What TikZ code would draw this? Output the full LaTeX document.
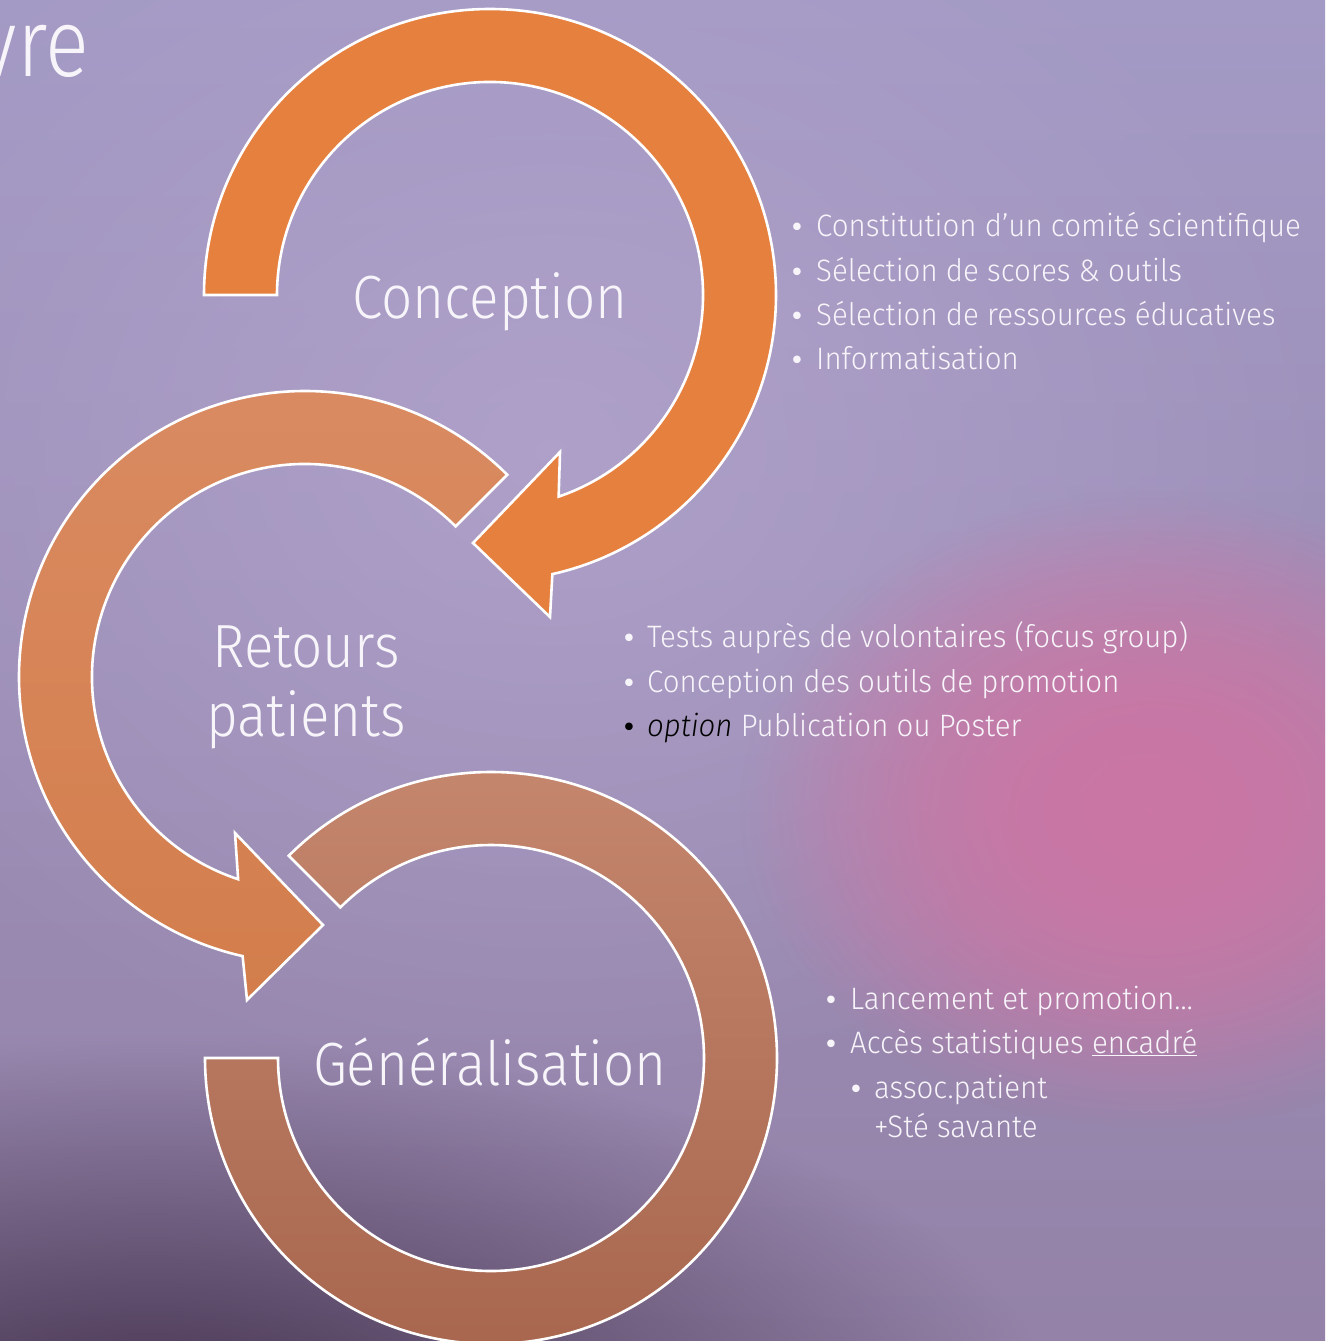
\documentclass[tikz,border=0pt]{standalone}
\usepackage{fontspec}
\IfFontExistsTF{Fira Sans Light}{%
  \setmainfont{Fira Sans Light}[ItalicFont={Fira Sans Light Italic}, FakeStretch=0.95]
  \newfontfamily\bigfont{Fira Sans Light}[FakeStretch=0.9]
  \newfontfamily\titlefont{Fira Sans Light}[FakeStretch=0.85]
}{%
  \setmainfont{Fira Sans}[FakeStretch=0.95]
  \newfontfamily\bigfont{Fira Sans}[FakeStretch=0.9]
  \newfontfamily\titlefont{Fira Sans}[FakeStretch=0.85]
}
\newfontfamily\dejavu{DejaVu Sans}
\newcommand{\bulmark}[1]{\llap{{\dejavu\fontsize{26}{26}\selectfont •}\hspace{#1}}}
\usetikzlibrary{calc,fadings}
\definecolor{bgtop}{HTML}{A39AC5}
\definecolor{bgbot}{HTML}{9482A8}
\definecolor{glow}{HTML}{B4A5CD}
\definecolor{pinkblob}{HTML}{CB76A4}
\definecolor{darkblob}{HTML}{45334F}
\definecolor{arcA}{HTML}{E6803F}
\definecolor{arcBtop}{HTML}{DA8B62}
\definecolor{arcBbot}{HTML}{D37D4C}
\definecolor{arcCtop}{HTML}{C6876F}
\definecolor{arcCbot}{HTML}{A7654D}
\definecolor{txt}{HTML}{F7F4FA}
\tikzfading[name=softfade, inner color=transparent!0, outer color=transparent!100]
\pgfdeclareradialshading{blobshade}{\pgfpointorigin}{color(0bp)=(white); color(8bp)=(white!92!black); color(14bp)=(white!70!black); color(19bp)=(white!40!black); color(23bp)=(white!12!black); color(25bp)=(black); color(50bp)=(black)}
\pgfdeclarefading{blobfade}{\pgfuseshading{blobshade}}
\begin{document}
\begin{tikzpicture}[x=1pt,y=1pt,
  ring/.style={draw=white, line width=2.6pt, line join=miter},
  biglabel/.style={text=txt, font=\bigfont\fontsize{61}{70}\selectfont, inner sep=0pt, anchor=base},
  item/.style={text=txt, font=\fontsize{31}{40}\selectfont, inner sep=0pt, anchor=base west},
]
\useasboundingbox (0,0) rectangle (1325,-1341);
\begin{scope}
\clip (0,0) rectangle (1325,-1341);
\shade[top color=bgtop, bottom color=bgbot] (0,0) rectangle (1325,-1341);
\fill[glow, opacity=0.75, path fading=softfade] (550-800,-450+650) rectangle (550+800,-450-650);
\fill[pinkblob, path fading=blobfade] (1150-410,-810+320) rectangle (1150+410,-810-320);
\fill[darkblob, path fading=softfade] (150-900,-1420+380) rectangle (150+900,-1420-380);
\end{scope}

\coordinate (C1) at (490,-295);
\coordinate (C2) at (305,-677);
\coordinate (C3) at (491,-1058);

% ring 3 : Generalisation
\path[ring, top color=arcCtop, bottom color=arcCbot]
  ($(C3)+(135:286)$) arc[start angle=135, end angle=-180, radius=286]
  -- ($(C3)+(180:213)$) arc[start angle=-180, end angle=135, radius=213] -- cycle;
% ring 2 : Retours patients
\path[ring, top color=arcBtop, bottom color=arcBbot]
  ($(C2)+(45:286)$) arc[start angle=45, end angle=257.4, radius=286]
  -- (247,-1000) -- (323,-925) -- (235,-833)
  -- ($(C2)+(251.7:213)$) arc[start angle=251.7, end angle=45, radius=213] -- cycle;
% ring 1 : Conception
\path[ring, fill=arcA]
  ($(C1)+(180:286)$) arc[start angle=180, end angle=-77.4, radius=286]
  -- (550,-617) -- (473,-543) -- (560,-452)
  -- ($(C1)+(-71.2:213)$) arc[start angle=-71.2, end angle=180, radius=213] -- cycle;

\node[text=txt, font=\titlefont\fontsize{96}{100}\selectfont, inner sep=0pt, anchor=base east] (title) at (89,-76) {vre};

\node[biglabel] (conc) at (490,-318) {Conception};
\node[biglabel] (ret1) at (306,-667) {Retours};
\node[biglabel] (ret2) at (306,-736) {patients};
\node[biglabel] (gen) at (490,-1085) {Généralisation};

\node[item] (t11) at (816,-236) {\bulmark{11.4pt}Constitution d’un comité scientifique};
\node[item] (t12) at (816,-281) {\bulmark{11.4pt}Sélection de scores \& outils};
\node[item] (t13) at (816,-325) {\bulmark{11.4pt}Sélection de ressources éducatives};
\node[item] (t14) at (816,-369) {\bulmark{11.4pt}Informatisation};

\node[item] (t21) at (647,-647) {\bulmark{10.4pt}Tests auprès de volontaires (focus group)};
\node[item] (t22) at (647,-692) {\bulmark{10.4pt}Conception des outils de promotion};
\node[item] (t23) at (647,-736) {\textcolor{black}{\bulmark{10.4pt}\itshape option} Publication ou Poster};

\node[item] (t31) at (850,-1009) {\bulmark{11.4pt}Lancement et promotion…};
\node[item] (t32) at (850,-1053) {\bulmark{11.4pt}Accès statistiques \underline{encadré}};
\node[item] (t33) at (874,-1098) {\bulmark{10.4pt}assoc.patient};
\node[item] (t34) at (874,-1137) {+Sté savante};
\end{tikzpicture}
\end{document}
